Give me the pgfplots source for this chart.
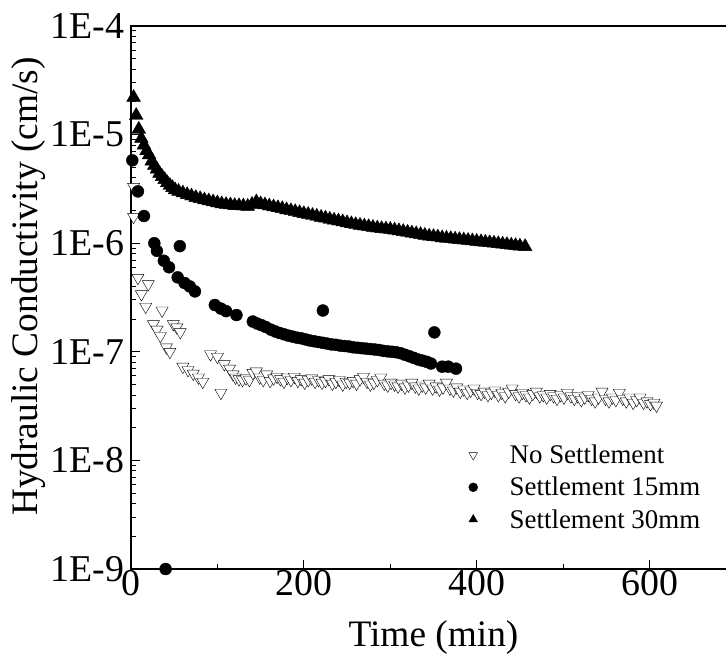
\documentclass[border=0pt]{standalone}
\usepackage{fontspec}
\setmainfont{Liberation Serif}
\usepackage{pgfplots}
\pgfplotsset{compat=1.18}

\begin{document}
\begin{tikzpicture}
\begin{axis}[
  at={(0,0)}, anchor=south west,
  scale only axis,
  width=605bp, height=543bp,
  xmin=0, xmax=700,
  ymin=1e-9, ymax=1e-4,
  ymode=log, log basis y=10,
  xtick={0,200,400,600},
  xticklabels={0,200,400,600},
  minor xtick={100,300,500,700},
  ytick={1e-9,1e-8,1e-7,1e-6,1e-5,1e-4},
  yticklabels={1E-9,1E-8,1E-7,1E-6,1E-5,1E-4},
  minor ytick={2e-9,3e-9,4e-9,5e-9,6e-9,7e-9,8e-9,9e-9,
               2e-8,3e-8,4e-8,5e-8,6e-8,7e-8,8e-8,9e-8,
               2e-7,3e-7,4e-7,5e-7,6e-7,7e-7,8e-7,9e-7,
               2e-6,3e-6,4e-6,5e-6,6e-6,7e-6,8e-6,9e-6,
               2e-5,3e-5,4e-5,5e-5,6e-5,7e-5,8e-5,9e-5},
  tick align=inside,
  tick pos=left,
  major tick length=9bp,
  minor tick length=5bp,
  every tick/.style={black, line width=1bp},
  axis line style={line width=1.3bp},
  tick label style={font=\fontsize{38}{40}\selectfont},
  xticklabel style={inner sep=1bp},
  yticklabel style={xshift=-3bp},
  label style={font=\fontsize{37.5}{40}\selectfont},
  xlabel={Time (min)},
  ylabel={Hydraulic Conductivity (cm/s)},
  xlabel style={at={(axis description cs:0.5,-0.127)}, anchor=center},
  ylabel style={at={(axis description cs:-0.170,0.52)}, anchor=center},
  legend cell align=left,
  legend style={at={(0.553,0.236)}, anchor=north west, draw=none, fill=none,
    font=\fontsize{27}{30}\selectfont, row sep=8bp, column sep=30bp,
    nodes={inner sep=2bp}},
]

\addlegendimage{only marks, mark=triangle*, mark size=5, mark options={rotate=180, fill=white, draw=black, line width=0.4bp}}
\addlegendentry{No Settlement}
\addlegendimage{only marks, mark=*, mark size=4.5, mark options={fill=black, draw=black}}
\addlegendentry{Settlement 15mm}
\addlegendimage{only marks, mark=triangle*, mark size=5, mark options={fill=black, draw=black}}
\addlegendentry{Settlement 30mm}

% No Settlement
\addplot [forget plot, only marks, mark=triangle*, mark size=7,
  mark options={rotate=180, fill=white, draw=black, line width=0.4bp}]
table {
3 3.3e-6
3 1.75e-6
8 4.8e-7
12 3.4e-7
17 2.6e-7
20 4.2e-7
26 1.8e-7
30 1.6e-7
34 1.4e-7
36 2.4e-7
41 1.1e-7
45 1.0e-7
49 1.8e-7
53 1.68e-7
57 1.52e-7
60 7.3e-8
66 6.8e-8
72 6.3e-8
78 5.8e-8
83 5.3e-8
92 9.5e-8
100 9.0e-8
104 4.2e-8
108 7.7e-8
114 7.0e-8
118 6.2e-8
121 5.8e-8
125 5.6e-8
129 5.5e-8
133 5.7e-8
137 5.5e-8
141 6.4e-8
145 6.6e-8
149 5.8e-8
153 5.5e-8
157 6.2e-8
161 5.4e-8
165 5.7e-8
169 5.9e-8
173 5.6e-8
177 5.3e-8
181 5.8e-8
185 5.5e-8
189 5.9e-8
193 5.4e-8
197 5.6e-8
201 5.2e-8
205 5.5e-8
209 5.7e-8
213 5.3e-8
217 5.5e-8
221 5.2e-8
225 5.4e-8
229 5.6e-8
233 5.1e-8
237 5.3e-8
241 5.5e-8
245 5.0e-8
249 5.3e-8
253 5.2e-8
257 5.4e-8
261 5.1e-8
265 5.6e-8
269 5.9e-8
273 5.3e-8
277 5.0e-8
281 5.2e-8
285 5.5e-8
289 5.8e-8
293 5.1e-8
297 4.9e-8
301 5.2e-8
305 5.0e-8
309 4.8e-8
313 5.1e-8
317 4.7e-8
321 4.9e-8
325 5.2e-8
329 4.8e-8
333 4.6e-8
337 4.9e-8
341 4.7e-8
345 5.1e-8
349 4.6e-8
353 4.8e-8
357 4.5e-8
361 4.7e-8
365 5.2e-8
369 4.6e-8
373 4.4e-8
377 4.7e-8
381 4.3e-8
385 4.5e-8
389 4.2e-8
393 4.4e-8
397 4.6e-8
401 4.2e-8
405 4.1e-8
409 4.3e-8
413 4.0e-8
417 4.2e-8
421 4.4e-8
425 4.0e-8
429 4.2e-8
433 3.9e-8
437 4.3e-8
441 4.6e-8
445 4.1e-8
449 3.9e-8
453 4.2e-8
457 4.0e-8
461 3.8e-8
465 4.1e-8
469 4.3e-8
473 3.9e-8
477 4.0e-8
481 3.8e-8
485 4.1e-8
489 3.9e-8
493 3.7e-8
497 4.0e-8
501 3.8e-8
505 4.2e-8
509 3.9e-8
513 3.7e-8
517 3.9e-8
521 3.6e-8
525 3.8e-8
529 4.0e-8
533 3.7e-8
537 3.5e-8
541 3.8e-8
545 4.3e-8
549 3.7e-8
553 3.5e-8
557 3.8e-8
561 3.6e-8
565 4.2e-8
569 3.7e-8
573 3.5e-8
577 3.8e-8
581 3.4e-8
585 3.6e-8
589 3.8e-8
593 3.4e-8
597 3.5e-8
601 3.3e-8
605 3.4e-8
608 3.2e-8
};

% Settlement 15mm
\addplot [forget plot, only marks, mark=*, mark size=6,
  mark options={fill=black, draw=black}]
table {
1.5 5.8e-6
8 3.0e-6
15 1.78e-6
27 1.0e-6
30 8.5e-7
38 6.9e-7
40 1.0e-9
44 6.0e-7
54 4.85e-7
56.5 9.4e-7
62 4.3e-7
68 4.0e-7
74 3.6e-7
97 2.7e-7
104 2.5e-7
110 2.37e-7
122 2.18e-7
141 1.9e-7
146 1.82e-7
151 1.76e-7
156 1.69e-7
162 1.6e-7
167 1.54e-7
172 1.49e-7
177 1.45e-7
182 1.41e-7
187 1.38e-7
192 1.35e-7
197 1.33e-7
202 1.30e-7
207 1.27e-7
212 1.25e-7
217 1.23e-7
222 2.4e-7
222 1.21e-7
227 1.19e-7
232 1.17e-7
237 1.16e-7
242 1.14e-7
247 1.13e-7
252 1.12e-7
257 1.10e-7
262 1.09e-7
267 1.08e-7
272 1.07e-7
277 1.06e-7
282 1.05e-7
287 1.04e-7
292 1.02e-7
297 1.01e-7
302 1.0e-7
307 9.9e-8
312 9.7e-8
317 9.4e-8
322 9.1e-8
327 8.8e-8
332 8.5e-8
337 8.3e-8
342 8.1e-8
347 7.8e-8
351 1.51e-7
360 7.3e-8
367 7.3e-8
376 7.0e-8
};

% Settlement 30mm
\addplot [forget plot, only marks, mark=triangle*, mark size=8,
  mark options={fill=black, draw=black}]
table {
3 2.2e-5
6 1.5e-5
9 1.12e-5
12 9.2e-6
15 8.0e-6
18 7.1e-6
21 6.5e-6
24 5.7e-6
27 5.2e-6
30 4.8e-6
33 4.4e-6
36 4.1e-6
39 3.85e-6
42 3.6e-6
45 3.4e-6
48 3.25e-6
51 3.1e-6
55 3.0e-6
60 2.9e-6
65 2.8e-6
70 2.72e-6
75 2.63e-6
80 2.57e-6
85 2.5e-6
90 2.45e-6
95 2.4e-6
100 2.35e-6
105 2.3e-6
110 2.27e-6
115 2.25e-6
120 2.22e-6
125 2.21e-6
130 2.2e-6
135 2.18e-6
140 2.28e-6
145 2.4e-6
150 2.3e-6
155 2.25e-6
160 2.2e-6
165 2.16e-6
170 2.12e-6
175 2.08e-6
180 2.03e-6
185 1.99e-6
190 1.95e-6
195 1.91e-6
200 1.87e-6
205 1.84e-6
210 1.80e-6
215 1.77e-6
220 1.73e-6
225 1.70e-6
230 1.66e-6
235 1.63e-6
240 1.60e-6
245 1.57e-6
250 1.54e-6
255 1.51e-6
260 1.48e-6
265 1.46e-6
270 1.44e-6
275 1.42e-6
280 1.40e-6
285 1.38e-6
290 1.36e-6
295 1.35e-6
300 1.34e-6
305 1.32e-6
310 1.30e-6
315 1.28e-6
320 1.26e-6
325 1.24e-6
330 1.22e-6
335 1.20e-6
340 1.18e-6
345 1.16e-6
350 1.15e-6
355 1.14e-6
360 1.12e-6
365 1.11e-6
370 1.10e-6
375 1.09e-6
380 1.08e-6
385 1.07e-6
390 1.06e-6
395 1.05e-6
400 1.04e-6
405 1.03e-6
410 1.02e-6
415 1.01e-6
420 1.00e-6
425 0.99e-6
430 0.98e-6
435 0.97e-6
440 0.96e-6
445 0.95e-6
450 0.94e-6
456 0.93e-6
};

\end{axis}
\pgfresetboundingbox
\path[use as bounding box] (-131bp,-95bp) rectangle (595bp,569bp);
\end{tikzpicture}
\end{document}
